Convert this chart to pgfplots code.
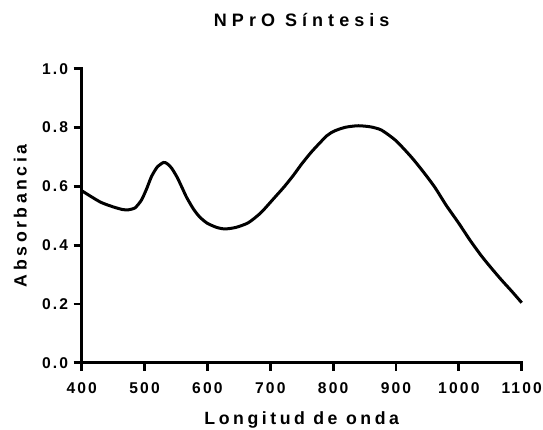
\documentclass[border=0pt]{standalone}
\usepackage{pgfplots}
\pgfplotsset{compat=1.18}
\usepackage{fontspec}
\setmainfont{Liberation Sans}
\newfontfamily\tickfont[LetterSpace=14]{Liberation Sans}
\newfontfamily\labfont[LetterSpace=20]{Liberation Sans}
\newfontfamily\titfont[LetterSpace=28]{Liberation Sans}

\pgfplotstableread{
x y
400 0.585
415 0.565
431 0.545
450 0.530
465 0.521
474 0.520
485 0.527
495 0.553
503 0.590
511 0.633
520 0.665
530 0.681
536 0.677
543 0.662
552 0.630
560 0.594
567 0.562
578 0.522
588 0.495
600 0.474
615 0.460
628 0.455
645 0.460
665 0.476
685 0.510
707 0.562
722 0.598
737 0.638
750 0.676
766 0.718
790 0.772
803 0.789
820 0.801
840 0.806
860 0.802
877 0.791
900 0.755
925 0.698
945 0.645
962 0.596
980 0.535
1000 0.474
1018 0.416
1036 0.363
1052 0.321
1068 0.281
1085 0.241
1100 0.204
}\spectrum

\begin{document}
\begin{tikzpicture}
\begin{axis}[
  scale only axis, width=440pt, height=294pt,
  xmin=400, xmax=1100, ymin=0, ymax=1,
  axis lines*=left,
  axis line style={line width=2.8pt, line cap=rect},
  every tick/.style={black, line width=2.8pt},
  tick align=outside,
  major tick length=8pt,
  xtick={400,500,600,700,800,900,1000,1100},
  xticklabels={400,500,600,700,800,900,1000,1100},
  ytick={0,0.2,0.4,0.6,0.8,1.0},
  yticklabels={0.0,0.2,0.4,0.6,0.8,1.0},
  tick label style={font=\tickfont\bfseries\fontsize{15.6}{18}\selectfont},
  xticklabel shift=8pt,
  yticklabel shift=2pt,
  xlabel={Longitud de onda},
  ylabel={Absorbancia},
  title={NPrO Síntesis},
  xlabel style={font=\labfont\bfseries\fontsize{17.7}{20}\selectfont, at={(axis description cs:0.5,0)}, anchor=base, yshift=-62pt},
  ylabel style={font=\labfont\bfseries\fontsize{17.7}{20}\selectfont, at={(axis description cs:-0.1398,0.5)}, anchor=center},
  title style={font=\titfont\bfseries\fontsize{18}{21}\selectfont, at={(axis description cs:0.5,1)}, anchor=base, yshift=36pt},
  clip=false,
]
\addplot[black, line width=3pt, smooth, tension=0.4] table[x=x,y=y] {\spectrum};
\coordinate (O) at (axis cs:400,0);
\end{axis}
\pgfresetboundingbox
\path[use as bounding box] ([shift={(-81.7pt,-66.3pt)}]O) rectangle ++(543pt,429pt);
\end{tikzpicture}
\end{document}
